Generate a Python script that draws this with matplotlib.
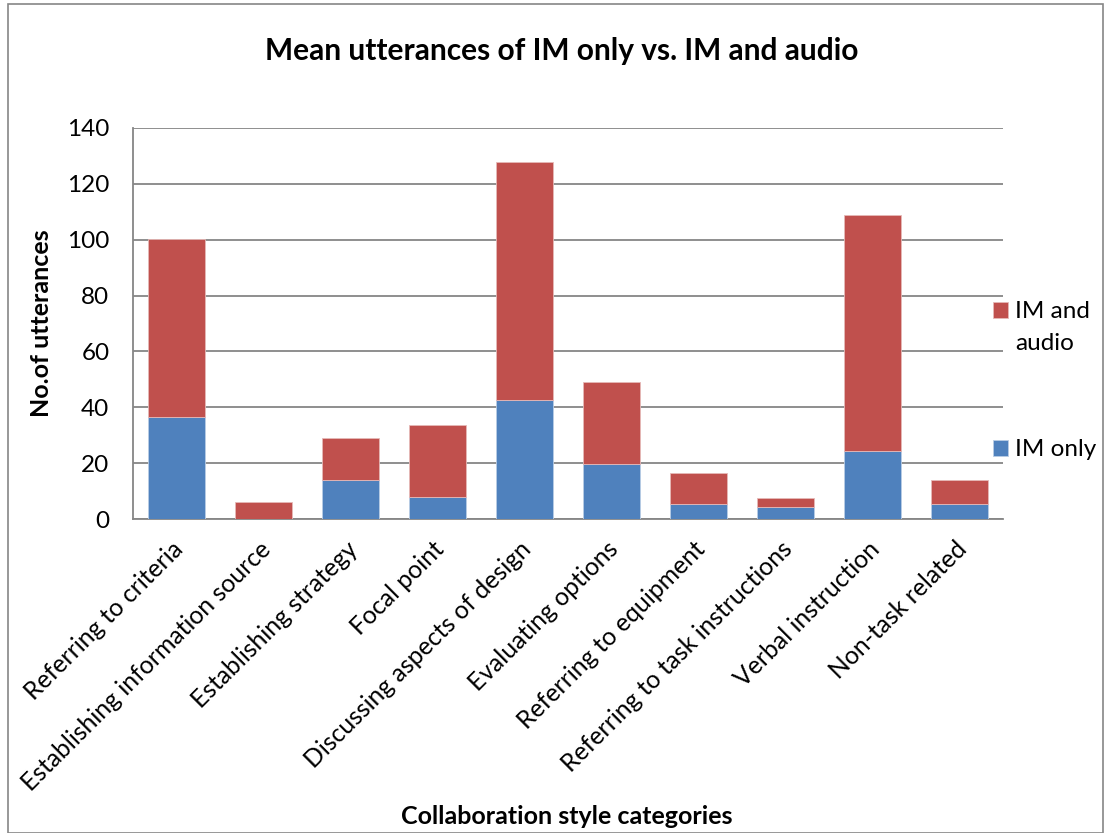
import matplotlib
matplotlib.use('Agg')
import matplotlib.pyplot as plt
import matplotlib.transforms as mtransforms
from matplotlib.patches import Rectangle
import numpy as np

plt.rcParams['font.family'] = ['Lato', 'DejaVu Sans']

categories = ['Referring to criteria', 'Establishing information source',
              'Establishing strategy', 'Focal point',
              'Discussing aspects of design', 'Evaluating options',
              'Referring to equipment', 'Referring to task instructions',
              'Verbal instruction', 'Non-task related']
im_only = [36.5, 0.0, 13.9, 7.9, 42.7, 19.8, 5.2, 4.2, 24.4, 5.4]
im_audio_total = [100.2, 6.0, 29.1, 33.6, 127.9, 48.9, 16.3, 7.5, 108.8, 14.1]
im_audio = [t - b for t, b in zip(im_audio_total, im_only)]

blue = '#4F81BD'
red = '#C0504D'
grid_c = '#868686'

fig = plt.figure(figsize=(11.11, 8.33), dpi=100)
ax = fig.add_axes([133/1111, 1-519/833, (1003-133)/1111, (519-128)/833])

x = np.arange(len(categories))
b1 = ax.bar(x, im_only, width=0.645, color=blue, edgecolor='#B9CDE5', linewidth=0.6, zorder=3)
b2 = ax.bar(x, im_audio, bottom=im_only, width=0.645, color=red, edgecolor='#E6B9B8', linewidth=0.6, zorder=3)

ax.set_xlim(-0.5, len(categories) - 0.5)
ax.set_ylim(0, 140)
ax.set_yticks(range(0, 141, 20))
ax.yaxis.grid(True, color=grid_c, linewidth=1.3, zorder=0)
ax.set_axisbelow(True)
for s in ['top', 'right']:
    ax.spines[s].set_visible(False)
for s in ['left', 'bottom']:
    ax.spines[s].set_color(grid_c)
    ax.spines[s].set_linewidth(1.3)
ax.tick_params(axis='y', length=0, labelsize=17.5, pad=17)
ax.set_xticks(x)
ax.set_xticklabels(categories, rotation=45, ha='right', rotation_mode='anchor', fontsize=17.8)
ax.tick_params(axis='x', length=0, pad=13)
# nudge the slanted labels a little to the left, like the original
shift = mtransforms.ScaledTranslation(-5/100, 0, fig.dpi_scale_trans)
for lab in ax.get_xticklabels():
    lab.set_transform(lab.get_transform() + shift)

fig.text(562/1111, 1-51/833, 'Mean utterances of IM only vs. IM and audio',
         ha='center', va='center', fontsize=21.5, fontweight='bold')
fig.text(42/1111, 1-323/833, 'No.of utterances', rotation=90,
         ha='center', va='center', fontsize=18, fontweight='bold')
fig.text(567/1111, 1-816/833, 'Collaboration style categories',
         ha='center', va='center', fontsize=18, fontweight='bold')

# legend: handle sits next to the first line of each label
leg_kw = dict(loc='center left', frameon=False, fontsize=17.5, handlelength=0.62,
              handleheight=0.62, handletextpad=0.3, borderpad=0, borderaxespad=0)
fig.legend([b2], ['IM and'], bbox_to_anchor=(993/1111, 1-312/833), **leg_kw)
fig.legend([b1], ['IM only'], bbox_to_anchor=(993/1111, 1-450/833), **leg_kw)
fig.text(1015/1111, 1-343/833, 'audio', ha='left', va='center', fontsize=17.5)

fig.patches.append(Rectangle((8/1111, 0), 1-16/1111, 1-4/833, transform=fig.transFigure,
                             fill=False, edgecolor=grid_c, linewidth=1.2))

fig.savefig('out.png', dpi=100)
